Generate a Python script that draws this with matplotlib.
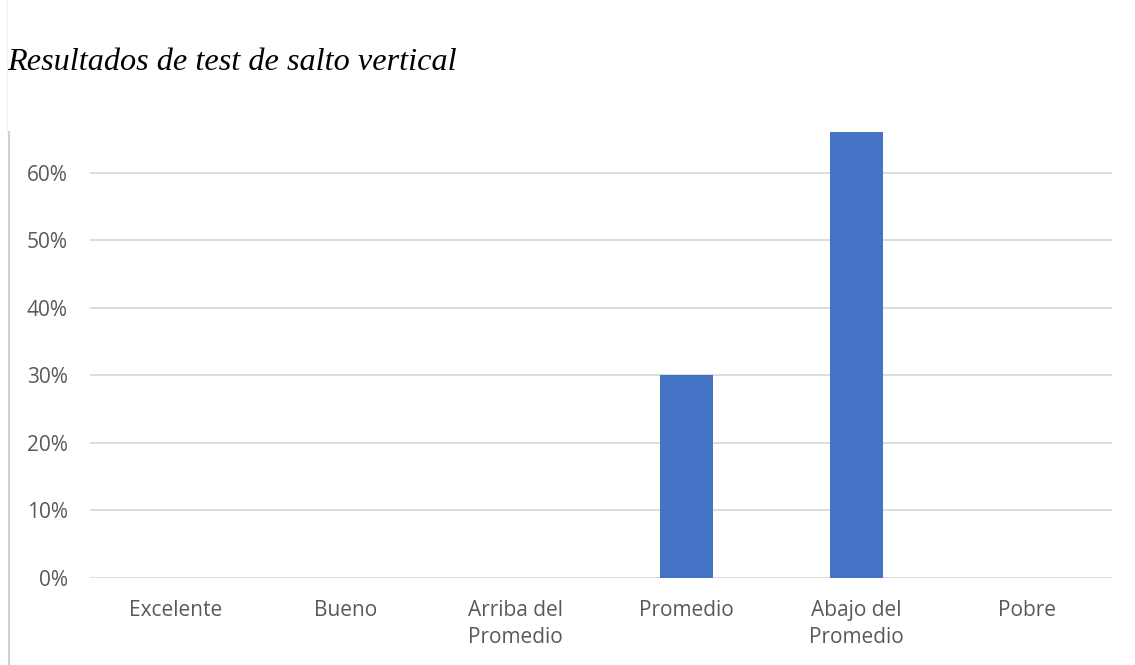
import matplotlib
matplotlib.use("Agg")
import matplotlib.pyplot as plt
from matplotlib.lines import Line2D
from matplotlib.ticker import FixedLocator

categories = ["Excelente", "Bueno", "Arriba del\nPromedio", "Promedio",
              "Abajo del\nPromedio", "Pobre"]
values = [0.0, 0.0, 0.0, 0.30, 0.66, 0.0]
yticks = [0.0, 0.1, 0.2, 0.3, 0.4, 0.5, 0.6]
ytick_labels = ["0%", "10%", "20%", "30%", "40%", "50%", "60%"]
title = "Resultados de test de salto vertical"

W, H = 1135, 665
fig = plt.figure(figsize=(W / 100, H / 100), dpi=100)
ax = fig.add_axes([90 / W, 1 - 578 / H, (1112 - 90) / W, (578 - 132) / H])

x = list(range(len(categories)))
ax.bar(x, values, width=0.31, color="#4472C4", zorder=3)
ax.set_xlim(-0.5, len(categories) - 0.5)
ax.set_ylim(0, 0.66)

ax.yaxis.set_major_locator(FixedLocator(yticks))
ax.set_yticklabels(ytick_labels)
ax.set_xticks(x)
ax.set_xticklabels(categories, linespacing=1.35)

ax.grid(axis="y", color="#D9D9D9", linewidth=1.3, zorder=0)
for s in ax.spines.values():
    s.set_visible(False)
ax.tick_params(length=0, labelsize=15, labelcolor="#595959")
ax.tick_params(axis="y", pad=16)
ax.tick_params(axis="x", pad=16)
for lbl in ax.get_xticklabels() + ax.get_yticklabels():
    lbl.set_fontfamily("Open Sans")

fig.text(7 / W, 1 - 62 / H, title, fontsize=23.2, style="italic",
         family="Liberation Serif", color="black", va="center", ha="left")

# chart frame edge on the left
fig.add_artist(Line2D([8.5 / W, 8.5 / W], [0, 1 - 132 / H],
                      transform=fig.transFigure, color="#D0D0D0", linewidth=1.5))
fig.add_artist(Line2D([7 / W, 7 / W], [1 - 132 / H, 1],
                      transform=fig.transFigure, color="#F0F0F0", linewidth=1))

fig.savefig("out.png", dpi=100)
